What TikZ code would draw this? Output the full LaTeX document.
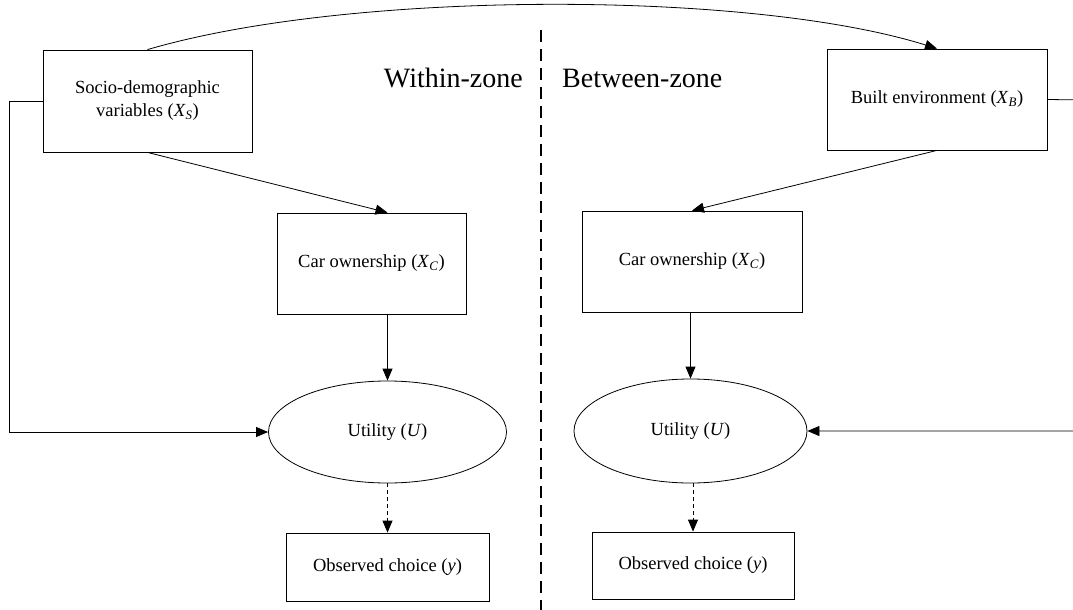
\documentclass[tikz,border=0pt]{standalone}
\usepackage{fontspec}
\setmainfont{Liberation Serif}
\usetikzlibrary{arrows.meta,shapes.geometric}
\begin{document}
\begin{tikzpicture}[x=1pt,y=-1pt,
  every node/.style={font=\fontsize{18.5}{23}\selectfont},
  boxnode/.style={draw,line width=0.8pt,rectangle,inner sep=0pt,align=center},
  ellnode/.style={draw,line width=0.8pt,ellipse,inner sep=0pt},
  zonelabel/.style={font=\fontsize{28}{32}\selectfont,inner sep=0pt},
  conn/.style={line width=0.8pt,-{Triangle[length=12pt,width=10pt]}},
  dconn/.style={line width=0.8pt,dash pattern=on 4pt off 3pt,-{Triangle[length=12pt,width=10pt]}},
  divider/.style={line width=1.6pt,dash pattern=on 12pt off 7pt}]
\clip (0,0) rectangle (1073,610);
\fill[white] (0,0) rectangle (1073,610);
% nodes
\node[boxnode,minimum width=209pt,minimum height=102pt] (sd) at (147.5,101) {Socio-demographic\\variables (\textit{X}\textsubscript{\textit{S}})};
\node[boxnode,minimum width=220pt,minimum height=101pt] (be) at (937,99.5) {Built environment (\textit{X}\textsubscript{\textit{B}})};
\node[boxnode,minimum width=189pt,minimum height=101pt] (car1) at (371.5,263.5) {Car ownership (\textit{X}\textsubscript{\textit{C}})};
\node[boxnode,minimum width=220pt,minimum height=101pt] (car2) at (692,261.5) {Car ownership (\textit{X}\textsubscript{\textit{C}})};
\node[ellnode,minimum width=238pt,minimum height=102pt] (u1) at (387.5,432) {Utility (\textit{U})};
\node[ellnode,minimum width=233pt,minimum height=104pt] (u2) at (690.5,431) {Utility (\textit{U})};
\node[boxnode,minimum width=203pt,minimum height=68pt] (obs1) at (387.5,567) {Observed choice (\textit{y})};
\node[boxnode,minimum width=202pt,minimum height=67pt] (obs2) at (693,565.5) {Observed choice (\textit{y})};
\node[zonelabel,anchor=base east] (wz) at (523,88) {Within-zone};
\node[zonelabel,anchor=base west] (bz) at (562,88) {Between-zone};
% divider
\coordinate (dtop) at (541,30);
\coordinate (dbot) at (541,612);
\draw[divider] (dtop) -- (dbot);
% helper coordinates
\coordinate (L) at (9.5,101);
\coordinate (R) at (1085,100);
\coordinate (c1) at (350,-10);
\coordinate (c2) at (750,-10);
% connectors
\draw[conn] (sd.north) .. controls (c1) and (c2) .. (be.north);
\draw[conn] (sd.south) -- (car1.north -| u1.north);
\draw[conn] (be.south) -- (car2.north);
\draw[conn] (car1.south -| u1.north) -- (u1.north);
\draw[conn] (car2.south -| u2.north) -- (u2.north);
\draw[dconn] (u1.south) -- (obs1.north -| u1.south);
\draw[dconn] (u2.south -| obs2.north) -- (obs2.north);
\draw[conn] (sd.west) -- (L) |- (u1.west);
\draw[conn] (be.east) -- (R) |- (u2.east);
\end{tikzpicture}
\end{document}
